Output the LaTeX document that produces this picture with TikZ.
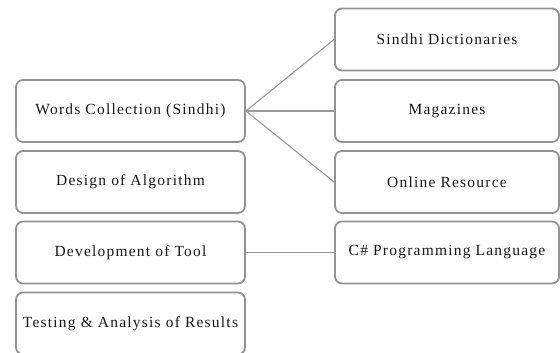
\documentclass[tikz,border=0pt]{standalone}
\usepackage{fontspec}
\setmainfont[LetterSpace=8]{Liberation Serif}
\usepackage{tikz}
\usetikzlibrary{positioning}

\begin{document}
\begin{tikzpicture}[x=0.025cm, y=-0.025cm]
  % ---- frame of the page (pixel grid, y downwards) ------------
  \useasboundingbox (0,0) rectangle (560,353);

  % ---- styles ---------------------------------------------------
  \tikzset{stepbox/.style={draw=gray!85, line width=1.3pt, rounded corners=5pt,
                           minimum width=5.72cm, minimum height=1.55cm,
                           inner sep=0pt, text=black!90, font=\fontsize{11}{13}\selectfont},
           srcbox/.style={stepbox, minimum width=5.6cm},
           link/.style={draw=gray!80, line width=0.8pt}}

  % ---- left column: steps -------------------------------------
  \node[stepbox] (words)   at (130.5,111)   {Words Collection (Sindhi)};
  \node[stepbox] (design)  at (130.5,182)   {Design of Algorithm};
  \node[stepbox] (develop) at (130.5,252.5) {Development of Tool};
  \node[stepbox] (testing) at (130.5,323.5) {Testing \& Analysis of Results};

  % ---- right column: sources and tools ------------------------
  \node[srcbox] (dict)    at (447,39.5)  {Sindhi Dictionaries};
  \node[srcbox] (mags)    at (447,111)   {Magazines};
  \node[srcbox] (online)  at (447,182)   {Online Resource};
  \node[srcbox] (csharp)  at (447,252.5) {C\# Programming Language};

  % ---- links ----------------------------------------------------
  \draw[link] (words.east) -- (dict.west);
  \draw[link] (words.east) -- (mags.west);
  \draw[link] (words.east) -- (online.west);
  \draw[link] (develop.east) -- (csharp.west);

\end{tikzpicture}
\end{document}
